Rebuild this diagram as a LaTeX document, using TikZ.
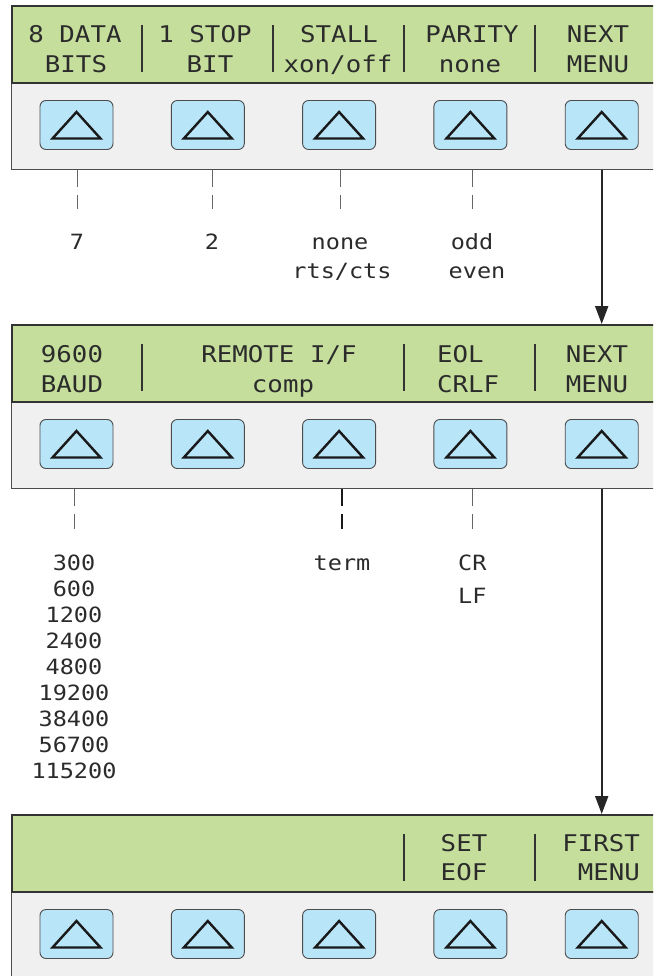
\documentclass[tikz,border=0pt]{standalone}
\usepackage{fontspec}
\usetikzlibrary{arrows.meta}
\newfontfamily\lcdfont{DejaVu Sans Mono}[FakeStretch=1.12]
\definecolor{lcdgreen}{HTML}{C5DE9C}
\definecolor{padgrey}{HTML}{F0F0F0}
\definecolor{keyblue}{HTML}{B9E5F9}
\definecolor{lcdink}{HTML}{2B2B2B}

\begin{document}
\begin{tikzpicture}[x=1pt, y=-1pt,
    lcd/.style={rectangle, draw=black!80, line width=1.6pt, fill=lcdgreen, minimum width=660pt, minimum height=77pt, inner sep=0pt, anchor=north west},
    pad/.style={rectangle, draw=black!70, line width=1.4pt, fill=padgrey, minimum width=660pt, minimum height=87pt, inner sep=0pt, anchor=north west},
    softkey/.style={rectangle, rounded corners=6pt, draw=black!70, line width=0.9pt, fill=keyblue, minimum width=73pt, minimum height=49pt, inner sep=0pt},
    keytri/.style={draw=black!90, line width=2.4pt},
    lcdtxt/.style={font=\lcdfont\fontsize{23}{27}\selectfont, text=lcdink, inner sep=0pt, anchor=base},
    choice/.style={font=\lcdfont\fontsize{21}{25}\selectfont, text=lcdink, inner sep=0pt, anchor=base, text height=15pt, text depth=4pt},
    divider/.style={draw=black!80, line width=2.4pt},
    leader/.style={draw=black!60, line width=1pt, dash pattern=on 17pt off 8pt, shorten >=26pt},
    nextarrow/.style={draw=black!85, line width=2pt, -{Triangle[length=18pt, width=13pt]}}
  ]
  \clip (0,0) rectangle (653,976);

  \foreach \p/\t in {1/5, 2/324, 3/814} {
    \node[pad] (pad\p) at (11,\t+77) {};
    \node[lcd] (lcd\p) at (11,\t) {};
    \foreach \i in {1,...,5} {
      \node[softkey] (k\p\i) at ({76.5+131.3*(\i-1)},\t+120) {};
      \draw[keytri] ([shift={(-24pt,-13.5pt)}]k\p\i.center) -- ([shift={(0pt,13pt)}]k\p\i.center)
        -- ([shift={(24pt,-13.5pt)}]k\p\i.center) -- cycle;
    }
  }

  \foreach \t/\x in {5/142, 5/273, 5/404, 5/535, 324/142, 324/404, 324/535, 814/404, 814/535}
    \draw[divider] (\x,\t+20) -- (\x,\t+67);

  \node[lcdtxt] (d1a) at (75,43) {8 DATA};
  \node[lcdtxt] (d1b) at (76,73) {BITS};
  \node[lcdtxt] (s1a) at (205,43) {1 STOP};
  \node[lcdtxt] (s1b) at (210,73) {BIT};
  \node[lcdtxt] (x1a) at (339,43) {STALL};
  \node[lcdtxt] (x1b) at (338,73) {xon/off};
  \node[lcdtxt] (p1a) at (472,43) {PARITY};
  \node[lcdtxt] (p1b) at (470,73) {none};
  \node[lcdtxt] (n1a) at (598,43) {NEXT};
  \node[lcdtxt] (n1b) at (598,73) {MENU};

  \node[lcdtxt] (b2a) at (72,362) {9600};
  \node[lcdtxt] (b2b) at (72,392) {BAUD};
  \node[lcdtxt] (r2a) at (279,362) {REMOTE I/F};
  \node[lcdtxt] (r2b) at (283,392) {comp};
  \node[lcdtxt, anchor=base west] (e2a) at (437,362) {EOL};
  \node[lcdtxt, anchor=base west] (e2b) at (437,392) {CRLF};
  \node[lcdtxt] (n2a) at (597,362) {NEXT};
  \node[lcdtxt] (n2b) at (597,392) {MENU};

  \node[lcdtxt] (e3a) at (464,851) {SET};
  \node[lcdtxt] (e3b) at (464,880) {EOF};
  \node[lcdtxt, anchor=base east] (f3a) at (640,851) {FIRST};
  \node[lcdtxt, anchor=base east] (f3b) at (640,880) {MENU};

  \node[choice] (c11) at (77,250) {7};
  \node[choice] (c12) at (212,250) {2};
  \node[choice] (c13) at (340,250) {none};
  \node[choice] (c13b) at (342,278) {rts/cts};
  \node[choice] (c14) at (472,250) {odd};
  \node[choice] (c14b) at (477,278) {even};

  \foreach \r [count=\n] in {300,600,1200,2400,4800,19200,38400,56700,115200}
    \node[choice] (baud\n) at (74,570+26*\n-26) {\r};
  \node[choice] (term) at (342,570) {term};
  \node[choice, anchor=base west] (cr) at (458,570) {CR};
  \node[choice, anchor=base west] (lf) at (458,603) {LF};

  \foreach \c in {c11, c12, c13, c14}
    \draw[leader] (pad1.south -| \c) -- (\c.north);
  \draw[leader] (pad2.south -| baud1) -- (baud1.north);
  \draw[leader, draw=black!90, line width=1.4pt] (pad2.south -| term) -- (term.north);
  \draw[leader] (pad2.south -| cr) -- (cr.north);

  \draw[nextarrow] (pad1.south -| k15) -- (lcd2.north -| k15);
  \draw[nextarrow] (pad2.south -| k25) -- (lcd3.north -| k25);
\end{tikzpicture}
\end{document}
